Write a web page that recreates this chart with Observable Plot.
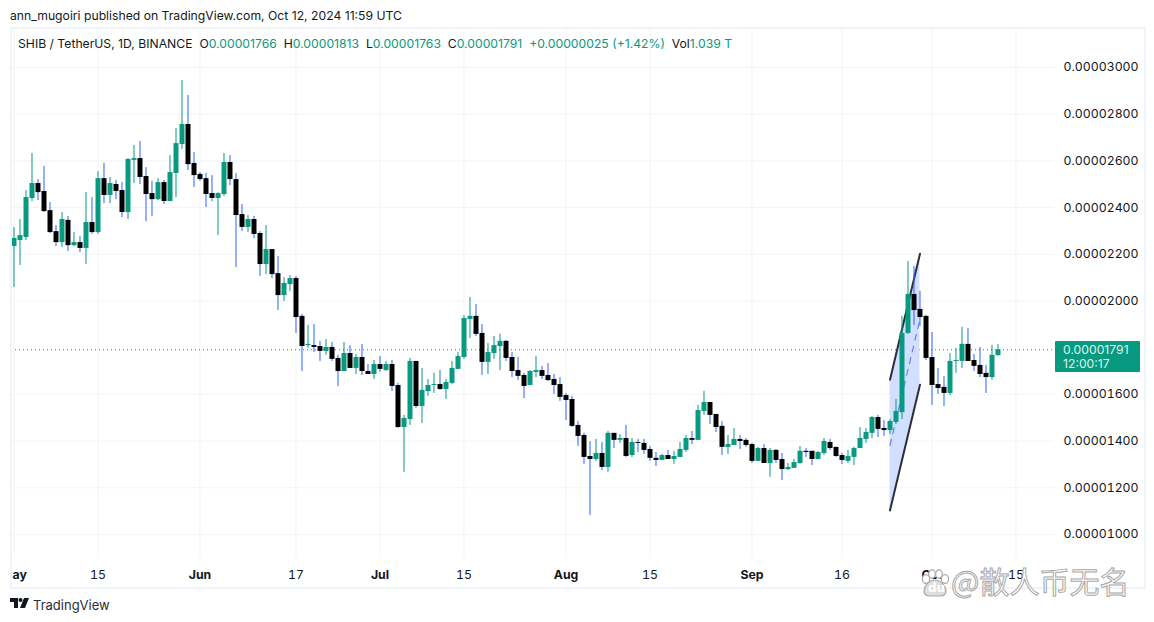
<!DOCTYPE html>
<html><head><meta charset="utf-8">
<script src="https://cdn.jsdelivr.net/npm/d3@7"></script>
<script src="https://cdn.jsdelivr.net/npm/@observablehq/plot@0.6"></script>
<style>
html,body{margin:0;padding:0;background:#fff;width:1154px;height:622px;overflow:hidden;font-family:Inter,"Liberation Sans",sans-serif;color:#131722}
#chart{position:absolute;left:0;top:0}
.ov{position:absolute;white-space:pre}
#frame{position:absolute;left:10px;top:27px;width:1132px;height:558px;border:2px solid #f0f3fa;border-left-width:2px;box-sizing:content-box;pointer-events:none}
.g{color:#089981}
</style></head><body>
<div id="chart"></div>
<div id="frame"></div>
<div class="ov" style="left:0;top:560px;width:10px;height:26px;background:#fff"></div>
<div class="ov" style="left:10px;top:8px;font-size:12.2px">ann_mugoiri published on TradingView.com, Oct 12, 2024 11:59 UTC</div>
<div class="ov" id="legend" style="left:18px;top:36px;font-size:12.2px"></div>
<div class="ov" id="tag" style="left:1055px;top:341px;width:85px;height:31px;background:#089981;color:#dff3ee;font-size:12.2px;line-height:14.5px;border-radius:1px;padding-top:1.5px;box-sizing:border-box;text-align:left;padding-left:8px"></div>
<svg class="ov" style="left:10px;top:598px" width="20" height="12" viewBox="0 0 20 12"><path d="M0 0h8v10H4V4H0z" fill="#131722"/><circle cx="10.5" cy="2" r="2" fill="#131722"/><path d="M14 0h5l-4 10H10z" fill="#131722"/></svg>
<div class="ov" style="left:33px;top:597px;font-size:13px;color:#2a2e39">TradingView</div>
<svg class="ov" style="left:920px;top:568px" width="30" height="30" viewBox="0 0 30 30"><g fill="#fff" stroke="#aaa" stroke-width="1.2"><ellipse cx="6" cy="11" rx="3.6" ry="4.4"/><ellipse cx="12" cy="6" rx="3.4" ry="4.2"/><ellipse cx="19" cy="6" rx="3.4" ry="4.2"/><ellipse cx="25" cy="11" rx="3.6" ry="4.4"/><path d="M15 12c6 0 11 6 11 11 0 4-3 5-6 5H10c-3 0-6-1-6-5 0-5 5-11 11-11z" fill="#ddd"/></g></svg>
<div class="ov" style="left:928px;top:581px;font-size:12px;font-weight:700;color:#fff;font-family:'DejaVu Sans'">du</div>
<div class="ov" style="left:951px;top:561px;font-size:30px;line-height:38px;font-family:'Noto Sans CJK SC';color:rgba(255,255,255,.9);-webkit-text-stroke:1px #a8a8a8">@散人币无名</div>
<script>
// Prices are in units of 0.00000001 USDT; one candle per day starting 1 May 2024
const firstDay = "2024-05-01";
const opens = [2233,2259,2272,2439,2503,2469,2387,2297,2250,2345,2237,2250,2225,2336,2293,2524,2452,2499,2473,2379,2602,2610,2533,2460,2434,2507,2426,2546,2670,2756,2589,2542,2524,2460,2439,2456,2593,2520,2370,2315,2349,2289,2156,2220,2117,2023,2070,2096,1934,1809,1809,1805,1784,1801,1754,1698,1775,1711,1758,1698,1685,1728,1702,1728,1638,1458,1492,1741,1548,1612,1638,1642,1621,1647,1707,1758,1921,1934,1861,1737,1775,1805,1827,1758,1702,1681,1638,1694,1702,1681,1664,1642,1595,1578,1467,1424,1334,1321,1347,1287,1433,1403,1411,1338,1394,1390,1364,1326,1317,1338,1321,1330,1360,1411,1403,1527,1565,1514,1463,1373,1381,1407,1403,1385,1313,1368,1304,1360,1321,1278,1283,1304,1356,1356,1321,1347,1394,1373,1338,1313,1330,1368,1407,1433,1501,1454,1445,1480,1522,1861,2028,1964,1934,1758,1642,1630,1604,1741,1741,1814,1745,1724,1690,1672,1766];
const highs = [2315,2349,2473,2632,2520,2576,2422,2323,2379,2362,2293,2276,2464,2443,2554,2589,2529,2516,2507,2610,2666,2683,2571,2512,2524,2516,2623,2739,2944,2880,2636,2550,2546,2537,2464,2632,2623,2546,2413,2366,2362,2297,2323,2220,2190,2100,2109,2105,1942,1895,1899,1827,1835,1822,1767,1822,1809,1771,1814,1728,1745,1762,1741,1745,1647,1510,1754,1741,1711,1664,1690,1702,1664,1741,1779,1938,2015,1985,1899,1818,1848,1857,1831,1779,1758,1690,1702,1762,1719,1732,1685,1672,1604,1591,1484,1433,1398,1407,1394,1441,1433,1428,1467,1411,1407,1407,1377,1351,1343,1360,1356,1394,1424,1441,1553,1613,1565,1514,1484,1424,1454,1424,1411,1390,1373,1385,1368,1364,1347,1304,1321,1377,1368,1356,1356,1411,1407,1373,1347,1360,1373,1458,1454,1505,1510,1488,1492,1578,1934,2169,2148,2041,1938,1865,1711,1677,1775,1797,1887,1882,1771,1801,1724,1810,1813];
const lows = [2058,2152,2259,2426,2430,2379,2289,2233,2229,2212,2233,2207,2156,2285,2285,2417,2417,2434,2357,2349,2503,2499,2340,2362,2430,2413,2426,2443,2649,2559,2486,2512,2400,2426,2280,2447,2494,2143,2297,2293,2267,2105,2113,2096,1959,1998,2040,1861,1698,1797,1779,1741,1767,1741,1634,1698,1711,1685,1681,1685,1664,1694,1698,1612,1454,1266,1467,1540,1475,1591,1604,1617,1578,1642,1707,1750,1839,1848,1681,1685,1750,1702,1741,1672,1659,1582,1638,1672,1664,1655,1600,1570,1488,1458,1377,1300,1081,1313,1274,1266,1368,1390,1330,1330,1351,1343,1313,1291,1317,1321,1300,1330,1351,1385,1403,1510,1471,1437,1338,1343,1381,1364,1373,1304,1313,1304,1244,1304,1231,1274,1283,1300,1330,1295,1321,1338,1360,1330,1300,1304,1295,1368,1390,1411,1415,1420,1428,1471,1492,1857,1895,1891,1745,1553,1600,1548,1595,1690,1711,1741,1698,1672,1604,1660,1763];
const closes = [2268,2280,2443,2503,2464,2383,2293,2250,2349,2237,2250,2225,2336,2293,2524,2452,2503,2469,2379,2606,2610,2529,2456,2434,2507,2426,2550,2674,2756,2584,2537,2520,2456,2439,2460,2593,2520,2366,2315,2349,2285,2156,2220,2113,2023,2075,2096,1929,1805,1814,1801,1784,1801,1750,1698,1775,1711,1758,1698,1685,1728,1707,1728,1634,1458,1497,1741,1548,1617,1638,1642,1621,1651,1711,1762,1925,1934,1857,1737,1779,1809,1827,1754,1698,1677,1634,1698,1702,1677,1659,1638,1587,1574,1463,1420,1330,1321,1347,1287,1433,1403,1411,1334,1394,1390,1360,1326,1317,1338,1321,1334,1364,1411,1403,1531,1565,1510,1458,1373,1385,1407,1398,1381,1313,1368,1304,1360,1317,1278,1287,1308,1356,1351,1321,1351,1398,1368,1334,1317,1334,1368,1411,1437,1501,1450,1445,1484,1527,1861,2028,1959,1929,1754,1638,1625,1604,1741,1745,1814,1741,1720,1685,1672,1767,1791];
const lastPrice = 1791;
const priceTicks = [3000,2800,2600,2400,2200,2000,1600,1400,1200,1000];
const monthTickDays = ["2024-05-01","2024-06-01","2024-07-01","2024-08-01","2024-09-01","2024-10-01"];
const monthTickLabels = ["May","Jun","Jul","Aug","Sep","Oct"];
const dayTickDays = ["2024-05-15","2024-06-17","2024-07-15","2024-08-15","2024-09-16","2024-10-15"];
const dayTickLabels = ["15","17","15","15","16","15"];
const flagDays = ["2024-09-24","2024-09-29"];
const flagUpper = [1663,2202];
const flagMiddle = [1382,1922];
const flagLower = [1103,1641];
const legendParts = [["SHIB / TetherUS, 1D, BINANCE  ",0],["O",0],["0.00001766  ",1],["H",0],["0.00001813  ",1],["L",0],["0.00001763  ",1],["C",0],["0.00001791  ",1],["+0.00000025 (+1.42%)  ",1],["Vol",0],["1.039 T",1]];
const countdown = "12:00:17";

const UP = "#089981", DOWN = "#000000", WICK = "#2962ff", GRID = "#f3f4f7";
const fmt = d => (d / 1e8).toFixed(8);
const day = s => new Date(s + "T00:00:00Z");
const start = day(firstDay);
const candles = opens.map((o, i) => ({date: d3.utcDay.offset(start, i), o, h: highs[i], l: lows[i], c: closes[i], up: closes[i] >= o}));
const flagTop = flagDays.map((d, i) => ({x: day(d), y: flagUpper[i]}));
const flagMid = flagDays.map((d, i) => ({x: day(d), y: flagMiddle[i]}));
const flagBot = flagDays.map((d, i) => ({x: day(d), y: flagLower[i]}));
const gridDays = [...monthTickDays, ...dayTickDays].map(day);

const chart = Plot.plot({
  width: 1154, height: 622,
  marginLeft: 11, marginRight: 100, marginTop: 28, marginBottom: 64,
  style: {fontFamily: "Inter, sans-serif", background: "transparent", overflow: "visible"},
  x: {type: "utc", domain: [new Date(+start - 2.5 / 6 * 864e5), new Date(+start + 173.417 * 864e5)], axis: null},
  y: {domain: [897, 3167], axis: null},
  marks: [
    Plot.ruleX(gridDays, {stroke: GRID, strokeWidth: 1}),
    Plot.ruleY(priceTicks, {stroke: GRID, strokeWidth: 1}),
    Plot.ruleY([lastPrice], {stroke: UP, strokeWidth: 1, strokeDasharray: "1 3"}),
    Plot.areaY(flagDays.map((d, i) => ({x: day(d), y1: flagLower[i], y2: flagUpper[i]})), {x: "x", y1: "y1", y2: "y2", fill: "#d3dfff"}),
    Plot.line(flagMid, {x: "x", y: "y", stroke: "#5b86ff", strokeWidth: 1.2, strokeDasharray: "6 6"}),
    Plot.line(flagTop, {x: "x", y: "y", stroke: "#2a2e39", strokeWidth: 2}),
    Plot.line(flagBot, {x: "x", y: "y", stroke: "#2a2e39", strokeWidth: 2}),
    Plot.ruleX(candles, {x: "date", y1: "l", y2: "h", stroke: d => d.up ? UP : WICK, strokeWidth: 1}),
    Plot.ruleX(candles, {x: "date", y1: "o", y2: "c", stroke: d => d.up ? UP : DOWN, strokeWidth: 5}),
    Plot.axisY({anchor: "right", ticks: priceTicks, tickFormat: fmt, tickSize: 0, tickPadding: 9, fontSize: 12.3, fill: "#131722", label: null}),
    Plot.axisX({anchor: "bottom", ticks: monthTickDays.map(day), tickFormat: d => monthTickLabels[monthTickDays.findIndex(s => +day(s) === +d)], tickSize: 0, tickPadding: 12, fontSize: 12.3, fontWeight: 700, fill: "#131722", label: null}),
    Plot.axisX({anchor: "bottom", ticks: dayTickDays.map(day), tickFormat: d => dayTickLabels[dayTickDays.findIndex(s => +day(s) === +d)], tickSize: 0, tickPadding: 12, fontSize: 12.3, fill: "#131722", label: null})
  ]
});
document.getElementById("chart").appendChild(chart);
const lg = document.getElementById("legend");
legendParts.forEach(([t, g]) => { const s = document.createElement("span"); s.textContent = t; if (g) s.className = "g"; lg.appendChild(s); });
document.getElementById("tag").textContent = fmt(lastPrice) + "\n" + countdown;
</script>
</body></html>
